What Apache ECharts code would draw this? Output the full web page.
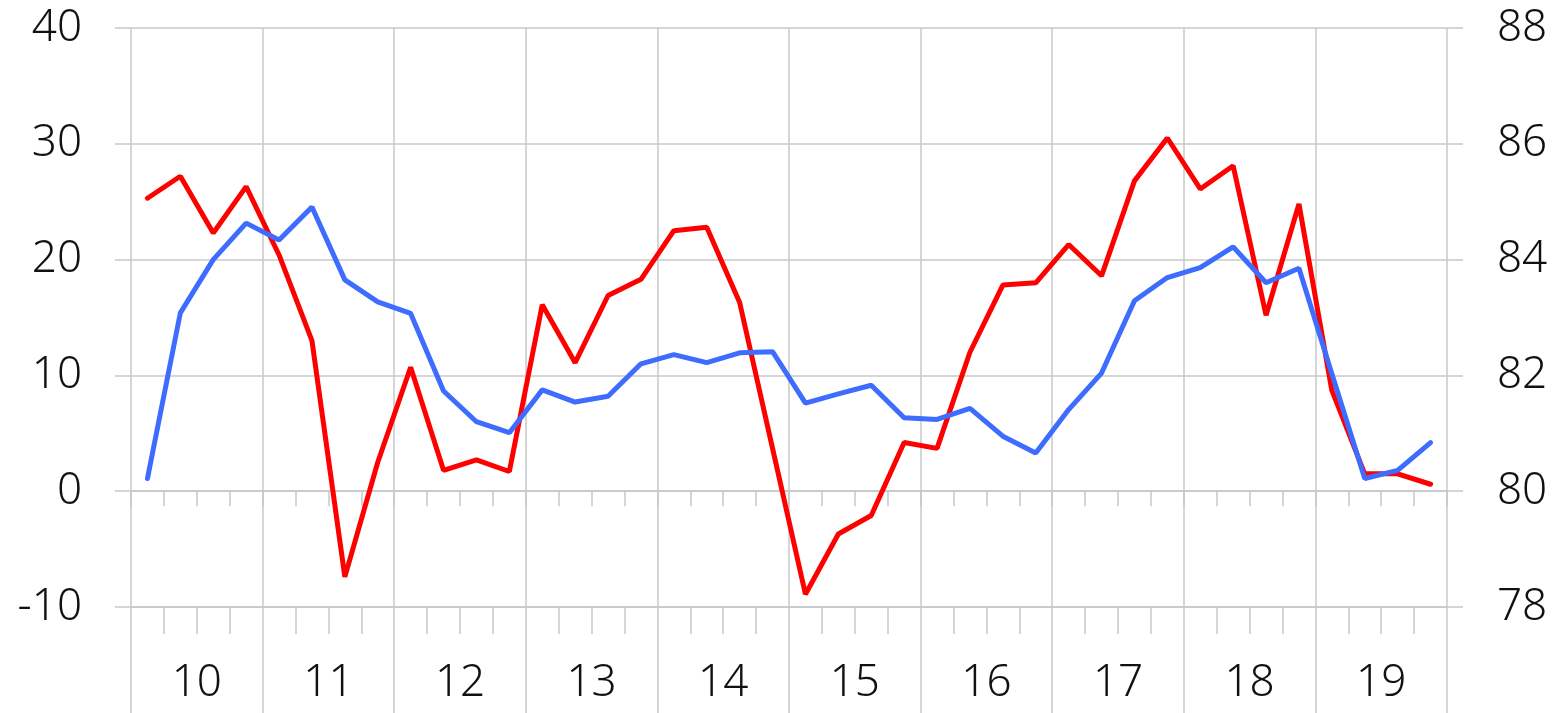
<!DOCTYPE html>
<html>
<head>
<meta charset="utf-8">
<script src="https://cdn.jsdelivr.net/npm/echarts@6/dist/echarts.min.js"></script>
<style>
  html, body { margin: 0; padding: 0; background: #fff; }
  #main { width: 1555px; height: 713px; }
</style>
</head>
<body>
<div id="main"></div>
<script>
// year labels on the bottom axis, 4 quarters each
var years = ['10', '11', '12', '13', '14', '15', '16', '17', '18', '19'];
var quarterNames = ['Q1', 'Q2', 'Q3', 'Q4'];
var quarters = years.flatMap(function (y) {
  return quarterNames.map(function (q) { return y + q; });
});

// red line, left axis
var redValues = [
  25.3, 27.2, 22.3, 26.3,
  20.4, 13.0, -7.4, 2.5,
  10.7, 1.8, 2.7, 1.7,
  16.1, 11.1, 16.9, 18.3,
  22.5, 22.8, 16.3, 3.7,
  -8.9, -3.7, -2.1, 4.2,
  3.7, 12.0, 17.8, 18.0,
  21.3, 18.6, 26.8, 30.5,
  26.1, 28.1, 15.2, 24.8,
  8.7, 1.5, 1.5, 0.6
];

// blue line, right axis
var blueValues = [
  80.22, 83.08, 84.0, 84.63,
  84.34, 84.91, 83.65, 83.27,
  83.07, 81.73, 81.2, 81.01,
  81.75, 81.54, 81.64, 82.2,
  82.36, 82.22, 82.39, 82.41,
  81.52, 81.68, 81.83, 81.27,
  81.24, 81.43, 80.95, 80.66,
  81.41, 82.04, 83.29, 83.69,
  83.86, 84.22, 83.6, 83.85,
  82.03, 80.22, 80.36, 80.84
];

var gridColor = '#c8c8c8';
var textColor = '#111';
var fontFamily = '"Noto Sans", "Open Sans", sans-serif';

var chart = echarts.init(document.getElementById('main'));

var option = {
  animation: false,
  backgroundColor: '#fff',
  grid: { left: 131, right: 108, top: 28, bottom: 106 },
  xAxis: [
    {
      // quarter ticks hanging off the zero line
      type: 'category',
      data: quarters,
      position: 'bottom',
      boundaryGap: true,
      axisLine: { show: true, onZero: true, lineStyle: { color: gridColor, width: 1.5 } },
      axisTick: { show: true, interval: 0, length: 15, lineStyle: { color: gridColor, width: 1.5 } },
      axisLabel: { show: false },
      splitLine: { show: false }
    },
    {
      // quarter ticks under the bottom line
      type: 'category',
      data: quarters,
      position: 'bottom',
      boundaryGap: true,
      axisLine: { show: true, onZero: false, lineStyle: { color: gridColor, width: 1.5 } },
      axisTick: { show: true, interval: 0, length: 27, lineStyle: { color: gridColor, width: 1.5 } },
      axisLabel: { show: false },
      splitLine: { show: false }
    },
    {
      // years: long ticks, vertical gridlines, labels
      type: 'category',
      data: years,
      position: 'bottom',
      boundaryGap: true,
      axisLine: { show: false, onZero: false },
      axisTick: { show: true, interval: 0, length: 106, lineStyle: { color: gridColor, width: 1.5 } },
      axisLabel: {
        show: true, interval: 0, margin: 54,
        fontSize: 44, fontWeight: 300, color: textColor, fontFamily: fontFamily
      },
      splitLine: { show: true, interval: 0, lineStyle: { color: gridColor, width: 1.5 } }
    }
  ],
  yAxis: [
    {
      type: 'value',
      position: 'left',
      min: -10,
      max: 40,
      interval: 10,
      axisLine: { show: false },
      axisTick: { show: true, length: 16, lineStyle: { color: gridColor, width: 1.5 } },
      axisLabel: { margin: 49, fontSize: 44, fontWeight: 300, color: textColor, fontFamily: fontFamily },
      splitLine: { show: true, lineStyle: { color: gridColor, width: 1.5 } }
    },
    {
      type: 'value',
      position: 'right',
      min: 78,
      max: 88,
      interval: 2,
      axisLine: { show: false },
      axisTick: { show: true, length: 16, lineStyle: { color: gridColor, width: 1.5 } },
      axisLabel: { margin: 50, fontSize: 44, fontWeight: 300, color: textColor, fontFamily: fontFamily },
      splitLine: { show: false }
    }
  ],
  series: [
    {
      name: 'red',
      type: 'line',
      xAxisIndex: 0,
      yAxisIndex: 0,
      data: redValues,
      showSymbol: false,
      lineStyle: { color: '#ff0000', width: 5, cap: 'round' },
      itemStyle: { color: '#ff0000' }
    },
    {
      name: 'blue',
      type: 'line',
      xAxisIndex: 0,
      yAxisIndex: 1,
      data: blueValues,
      showSymbol: false,
      lineStyle: { color: '#3d6cff', width: 5, cap: 'round' },
      itemStyle: { color: '#3d6cff' }
    }
  ]
};

chart.setOption(option);
</script>
</body>
</html>
